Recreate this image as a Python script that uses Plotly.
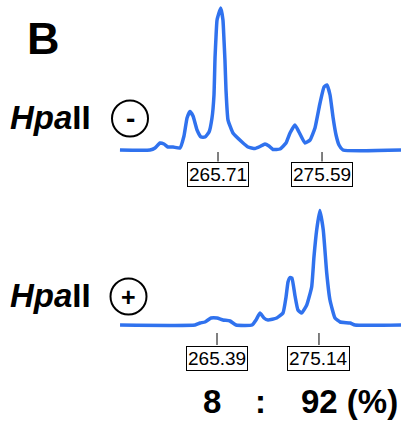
import plotly.graph_objects as go

W, H = 401, 422

# Top trace (HpaII -)  : fragment size (bp) vs intensity (arbitrary units)
size_minus = [256.40, 259.25, 259.73, 260.20, 260.58, 260.96, 261.44, 262.10, 262.48, 262.77,
              263.05, 263.34, 263.72, 264.10, 264.48, 264.86, 265.14, 265.33, 265.43, 265.52,
              265.62, 265.97, 266.18, 266.28, 266.37, 266.47, 266.66, 267.13, 267.99, 268.56,
              269.22, 269.70, 270.17, 270.55, 270.93, 271.60, 272.17, 272.55, 273.02, 273.40,
              273.97, 274.45, 274.92, 275.40, 275.78, 276.06, 276.35, 276.63, 276.92, 277.20,
              277.58, 283.09]
int_minus = [0, 0, 20, 70, 60, 30, 30, 20, 140, 320,
             385, 340, 200, 130, 130, 180, 320, 550, 930, 1130,
             1300, 1420, 1300, 1100, 900, 600, 300, 170, 80, 30,
             15, 35, 60, 40, 5, 10, 70, 170, 250, 180,
             70, 100, 220, 470, 630, 650, 550, 330, 150, 50,
             0, 0]

# Bottom trace (HpaII +)
size_plus = [256.12, 263.29, 263.77, 264.24, 264.82, 265.39, 265.96, 266.63, 267.21, 268.74,
             269.12, 269.50, 269.88, 270.27, 271.10, 271.70, 271.99, 272.18, 272.37, 272.55,
             272.85, 273.13, 273.49, 273.97, 274.44, 274.66, 274.92, 275.22, 275.55, 275.88,
             276.19, 276.67, 277.16, 278.12, 278.58, 282.98]
int_plus = [0, 0, 20, 30, 70, 70, 50, 40, 0, 0,
            50, 120, 70, 50, 70, 120, 280, 430, 475, 470,
            290, 150, 120, 200, 380, 680, 950, 1145, 950, 520,
            250, 70, 30, 20, 0, 0]

peaks_minus = [265.71, 275.59]
peaks_plus = [265.39, 275.14]
ratio_labels = ["8", ":", "92 (%)"]

BLUE = "#3072EE"
FONT = "Liberation Sans, Arial, sans-serif"

fig = go.Figure()
fig.add_trace(go.Scatter(x=size_minus, y=int_minus, mode="lines",
                         line=dict(color=BLUE, width=3.5, shape="spline", smoothing=0.4),
                         xaxis="x", yaxis="y", hoverinfo="skip"))
fig.add_trace(go.Scatter(x=size_plus, y=int_plus, mode="lines",
                         line=dict(color=BLUE, width=3.5, shape="spline", smoothing=0.4),
                         xaxis="x2", yaxis="y2", hoverinfo="skip"))

def px(x):
    return x / W

def py(y):
    return 1 - y / H

shapes = []
annotations = []
for p in peaks_minus:
    shapes.append(dict(type="line", xref="x", yref="y", x0=p, x1=p, y0=-20, y1=-115,
                       line=dict(color="black", width=1)))
    annotations.append(dict(xref="x", yref="y", x=p, y=-240, xanchor="center", yanchor="middle",
                            text=f"{p:.2f}", showarrow=False,
                            font=dict(family=FONT, size=19, color="black"), bordercolor="black",
                            borderwidth=1, borderpad=1, bgcolor="white"))
for p in peaks_plus:
    shapes.append(dict(type="line", xref="x2", yref="y2", x0=p, x1=p, y0=-80, y1=-200,
                       line=dict(color="black", width=1)))
    annotations.append(dict(xref="x2", yref="y2", x=p, y=-330, xanchor="center", yanchor="middle",
                            text=f"{p:.2f}", showarrow=False,
                            font=dict(family=FONT, size=19, color="black"), bordercolor="black",
                            borderwidth=1, borderpad=1, bgcolor="white"))

# Panel letter
annotations.append(dict(xref="paper", yref="paper", x=px(43), y=py(38), xanchor="center", yanchor="middle",
                        text="<b>B</b>", showarrow=False, font=dict(family=FONT, size=45, color="black")))
# Enzyme labels
for yc in (117, 295):
    annotations.append(dict(xref="paper", yref="paper", x=px(8), y=py(yc), xanchor="left", yanchor="middle",
                            text="<b><i>Hpa</i>II</b>", showarrow=False,
                            font=dict(family=FONT, size=33, color="black")))
# circles with signs
for (cx, cy, sign, fs) in ((130, 118.5, "-", 28), (128.5, 296.5, "+", 25)):
    r = 18
    shapes.append(dict(type="circle", xref="paper", yref="paper", x0=px(cx - r), x1=px(cx + r),
                       y0=py(cy + r), y1=py(cy - r), line=dict(color="black", width=2)))
    annotations.append(dict(xref="paper", yref="paper", x=px(cx), y=py(cy), xanchor="center", yanchor="middle",
                            text=f"<b>{sign}</b>", showarrow=False,
                            font=dict(family=FONT, size=fs, color="black")))

# ratio text
for lab, xc, anchor in zip(ratio_labels, (201, 260, 299), ("left", "center", "left")):
    annotations.append(dict(xref="paper", yref="paper", x=px(xc), y=py(401), xanchor=anchor, yanchor="middle",
                            text=f"<b>{lab}</b>", showarrow=False,
                            font=dict(family=FONT, size=33, color="black")))

ax_common = dict(visible=False, showgrid=False, zeroline=False, fixedrange=True)
fig.update_layout(
    width=W, height=H, margin=dict(l=0, r=0, t=0, b=0),
    paper_bgcolor="white", plot_bgcolor="white", showlegend=False,
    xaxis=dict(range=[245.008, 283.089], domain=[0, 1], **ax_common),
    xaxis2=dict(range=[244.644, 282.981], overlaying="x", **ax_common),
    yaxis=dict(range=[-2720, 1500], domain=[0, 1], **ax_common),
    yaxis2=dict(range=[-970, 3250], overlaying="y", **ax_common),
    shapes=shapes, annotations=annotations,
)
fig.write_html("out.html", config={"displayModeBar": False},
               post_script="document.body.style.margin='0';document.body.style.overflow='hidden';")
